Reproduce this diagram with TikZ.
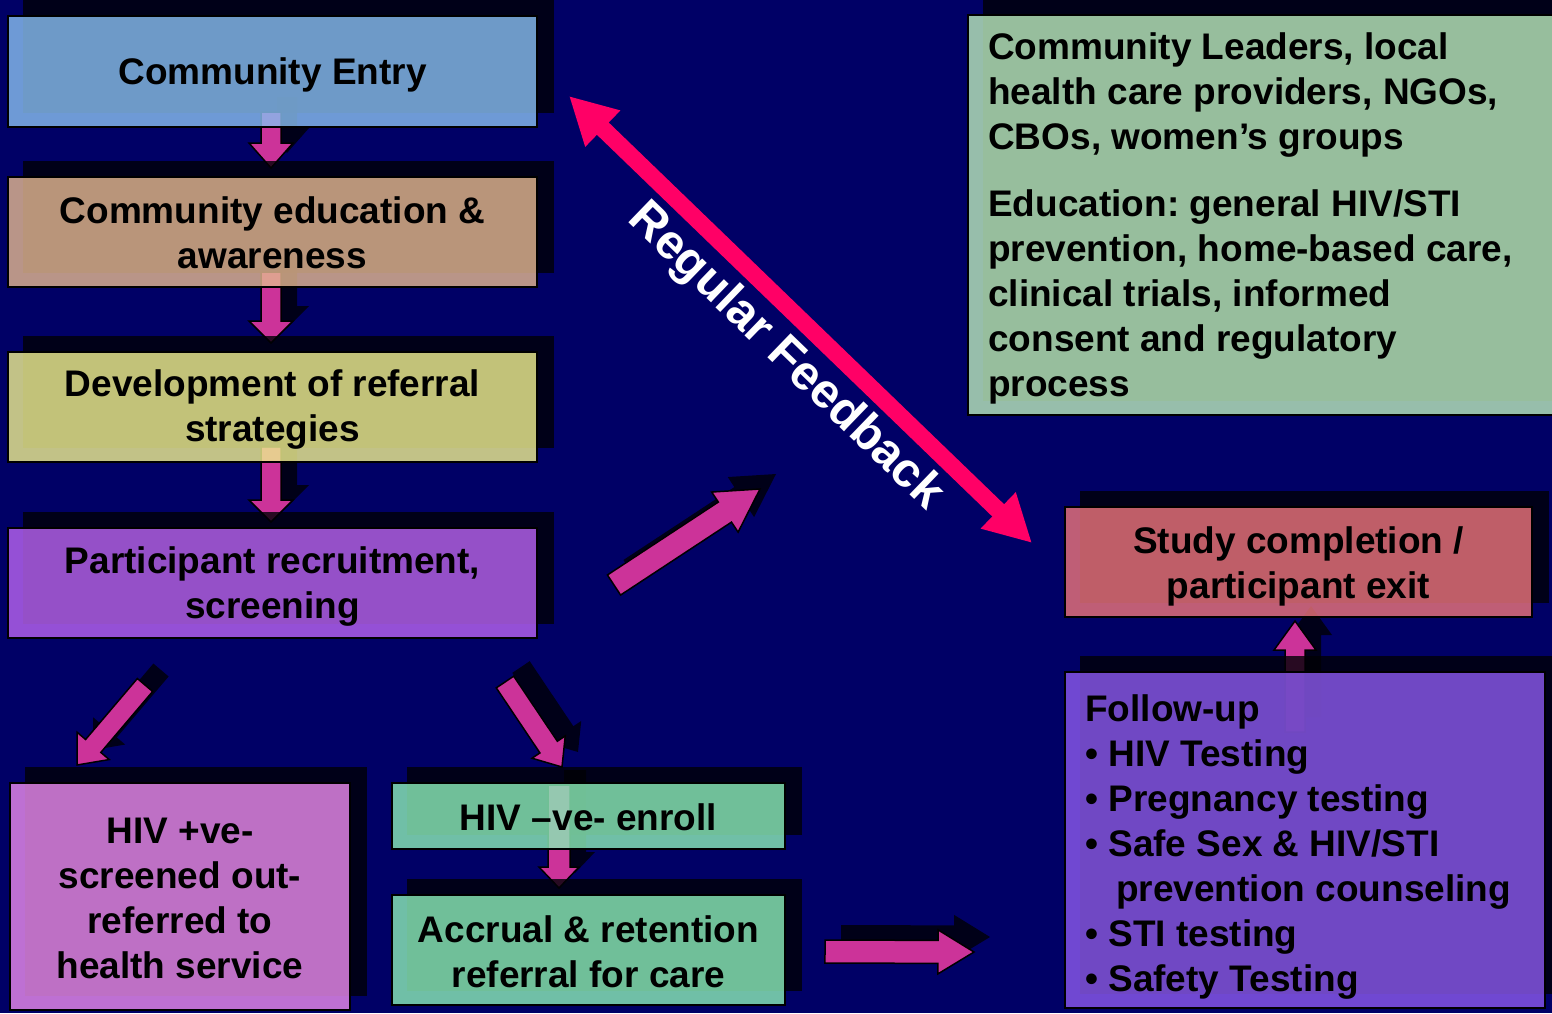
\documentclass[tikz,border=0pt]{standalone}
\usepackage{fontspec}
\setmainfont{Liberation Sans}
\frenchspacing
\usetikzlibrary{calc,arrows.meta}
\pgfdeclarelayer{bg}\pgfdeclarelayer{shadA}\pgfdeclarelayer{arr}\pgfdeclarelayer{shadB}
\pgfsetlayers{bg,shadA,arr,shadB,main}
\definecolor{bgcol}{RGB}{0,0,102}
\definecolor{shadcol}{RGB}{0,0,5}
\definecolor{arrcol}{RGB}{204,51,153}
\definecolor{fbcol}{RGB}{255,0,102}
\definecolor{cEntry}{RGB}{135,188,239}
\definecolor{cEdu}{RGB}{226,182,144}
\definecolor{cDev}{RGB}{237,237,143}
\definecolor{cPart}{RGB}{182,98,239}
\definecolor{cPos}{RGB}{232,137,236}
\definecolor{cNeg}{RGB}{137,234,182}
\definecolor{cLead}{RGB}{185,232,187}
\definecolor{cStudy}{RGB}{234,115,122}
\definecolor{cFoll}{RGB}{137,88,234}
\newcommand\bigfont{\fontsize{37}{45}\selectfont\bfseries}
\tikzset{
  box/.style={draw=black, line width=2pt, fill opacity=0.82, inner sep=0pt},
  boxtext/.style={inner sep=0pt, align=center, font=\bigfont, text=black},
  shadowbox/.style={fill=shadcol, fill opacity=0.8},
  blockarrow/.style={fill=arrcol, draw=black, line width=1.5pt, line join=miter},
  blockshadow/.style={fill=shadcol, fill opacity=0.8},
  fbarrow/.style={draw=fbcol, line width=17pt,
    {Triangle[length=47pt,width=47pt]}-{Triangle[length=47pt,width=47pt]}},
}
% #1 tail, #2 tip, #3 half shaft width, #4 half head width, #5 head length
\newcommand\blockarr[5]{%
  \path let \p1=($(#2)-(#1)$) in \pgfextra{%
    \pgfmathsetmacro\baang{atan2(\y1,\x1)}%
    \pgfmathsetmacro\balen{veclen(\x1,\y1)}%
    \xdef\bAang{\baang}\xdef\bAlen{\balen}};
  \begin{pgfonlayer}{shadA}
    \fill[blockshadow, shift={(#1)}, xshift=16pt, yshift=15pt, rotate=\bAang]
      (0,-#3) -- ({\bAlen-#5},-#3) -- ({\bAlen-#5},-#4) -- (\bAlen,0)
      -- ({\bAlen-#5},#4) -- ({\bAlen-#5},#3) -- (0,#3) -- cycle;
  \end{pgfonlayer}
  \begin{pgfonlayer}{arr}
    \filldraw[blockarrow, shift={(#1)}, rotate=\bAang]
      (0,-#3) -- ({\bAlen-#5},-#3) -- ({\bAlen-#5},-#4) -- (\bAlen,0)
      -- ({\bAlen-#5},#4) -- ({\bAlen-#5},#3) -- (0,#3) -- cycle;
  \end{pgfonlayer}}
\newcommand\boxshadow[2]{%
  \begin{pgfonlayer}{#1}
    \fill[shadowbox] ([shift={(16,-15)}]#2.south west) rectangle ([shift={(16,-15)}]#2.north east);
  \end{pgfonlayer}}
\begin{document}
\begin{tikzpicture}[x=1pt,y=-1pt]
\useasboundingbox (0,0) rectangle (1552,1013);
\clip (0,0) rectangle (1552,1013);
\begin{pgfonlayer}{bg}
  \fill[bgcol] (0,0) rectangle (1552,1013);
\end{pgfonlayer}

% boxes
\node[box, fill=cEntry, minimum width=529pt, minimum height=111pt] (entry) at (272.5,71.5) {};
\node[box, fill=cEdu, minimum width=529pt, minimum height=110pt] (edu) at (272.5,232) {};
\node[box, fill=cDev, minimum width=529pt, minimum height=110pt] (dev) at (272.5,407) {};
\node[box, fill=cPart, minimum width=529pt, minimum height=110pt] (part) at (272.5,583) {};
\node[box, fill=cPos, minimum width=340pt, minimum height=227pt] (pos) at (180,896.5) {};
\node[box, fill=cNeg, minimum width=393pt, minimum height=66pt] (neg) at (588.5,816) {};
\node[box, fill=cNeg, minimum width=393pt, minimum height=110pt] (accr) at (588.5,950) {};
\node[box, fill=cLead, minimum width=602pt, minimum height=400pt] (lead) at (1269,215) {};
\node[box, fill=cStudy, minimum width=467pt, minimum height=110pt] (study) at (1298.5,562) {};
\node[box, fill=cFoll, minimum width=480pt, minimum height=336pt] (foll) at (1305,840) {};

% box texts
\node[boxtext] (entryT) at ([yshift=-3pt]entry.center) {Community Entry};
\node[boxtext] (eduT) at ([yshift=-0.5pt]edu.center) {Community education \&\\ awareness};
\node[boxtext] (devT) at ([yshift=-3pt]dev.center) {Development of referral\\ strategies};
\node[boxtext] (partT) at ([yshift=-3.5pt]part.center) {Participant recruitment,\\ screening};
\node[boxtext] (posT) at ([yshift=-2pt]pos.center) {HIV +ve-\\ screened out-\\ referred to\\ health service};
\node[boxtext] (negT) at ([yshift=-1pt]neg.center) {HIV –ve- enroll};
\node[boxtext] (accrT) at ([yshift=-2pt]accr.center) {Accrual \& retention\\ referral for care};
\node[boxtext, anchor=west, align=left] (leadT) at ([xshift=21pt, yshift=-3pt]lead.west)
  {Community Leaders, local\\ health care providers, NGOs,\\ CBOs, women’s groups\\[22pt]
   Education: general HIV/STI\\ prevention, home-based care,\\ clinical trials, informed\\
   consent and regulatory\\ process};
\node[boxtext] (studyT) at ([yshift=-4.5pt]study.center) {Study completion /\\ participant exit};
\node[boxtext, anchor=west, align=left] (follT) at ([xshift=21pt, yshift=-7pt]foll.west)
  {Follow-up\\ • HIV Testing\\ • Pregnancy testing\\ • Safe Sex \& HIV/STI\\
   \hspace*{31pt}prevention counseling\\ • STI testing\\ • Safety Testing};

% box shadows
\boxshadow{shadA}{entry}
\boxshadow{shadB}{edu}
\boxshadow{shadB}{dev}
\boxshadow{shadB}{part}
\boxshadow{shadB}{pos}
\boxshadow{shadA}{neg}
\boxshadow{shadB}{accr}
\boxshadow{shadA}{lead}
\boxshadow{shadA}{study}
\boxshadow{shadB}{foll}

% arrow end points
\coordinate (a1s) at (271,112);  \coordinate (a1e) at (271,168);
\coordinate (a2s) at (271,272);  \coordinate (a2e) at (271,343);
\coordinate (a3s) at (271,446);  \coordinate (a3e) at (271,522);
\coordinate (aLs) at (145,685);  \coordinate (aLe) at (77,765);
\coordinate (aMs) at (505,682);  \coordinate (aMe) at (562,767);
\coordinate (aQs) at (614,585);  \coordinate (aQe) at (760,489);
\coordinate (aNs) at (559,785);  \coordinate (aNe) at (559,888);
\coordinate (aRs) at (825,951.5);\coordinate (aRe) at (974,952);
\coordinate (aUs) at (1295,732); \coordinate (aUe) at (1295,621);
\coordinate (fbA) at (569,96);   \coordinate (fbB) at (1032,543);

\blockarr{a1s}{a1e}{10}{22}{25}
\blockarr{a2s}{a2e}{10}{22}{22}
\blockarr{a3s}{a3e}{10}{22}{22}
\blockarr{aLs}{aLe}{10}{21}{25}
\blockarr{aMs}{aMe}{10.5}{20}{24}
\blockarr{aQs}{aQe}{12}{24}{42}
\blockarr{aNs}{aNe}{11}{20}{21}
\blockarr{aRs}{aRe}{11.5}{22}{36}
\blockarr{aUs}{aUe}{10}{21}{29}

\begin{pgfonlayer}{arr}
  \draw[fbarrow] (fbA) -- (fbB);
\end{pgfonlayer}
\node[text=white, font=\fontsize{48.5}{50}\selectfont\bfseries, rotate=-44] (fbtext) at (785,357) {Regular Feedback};
\end{tikzpicture}
\end{document}
